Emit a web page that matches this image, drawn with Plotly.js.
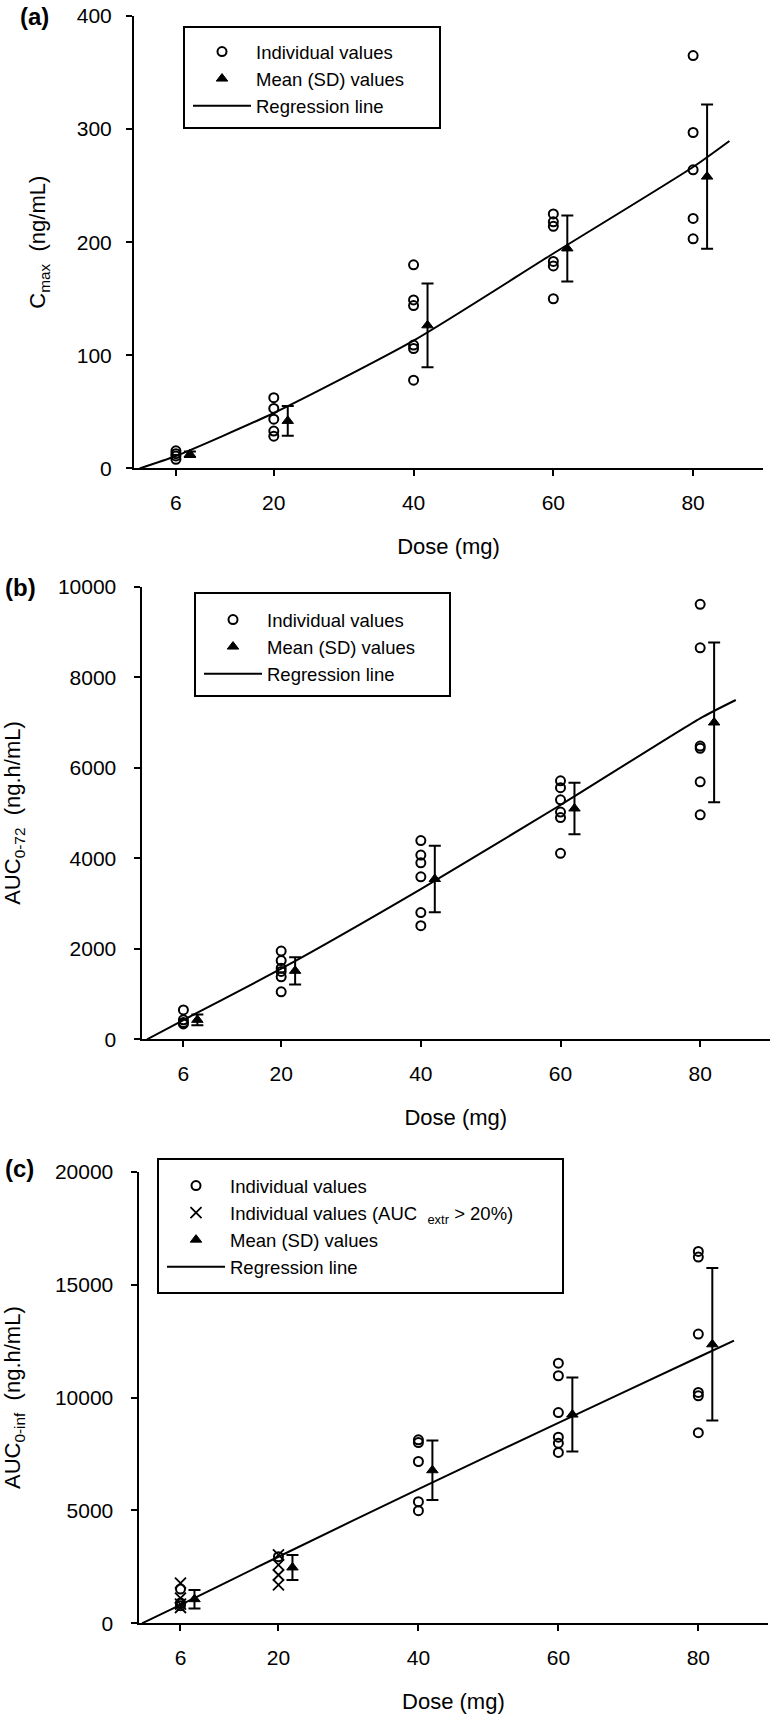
<!DOCTYPE html>
<html><head><meta charset="utf-8">
<script src="https://cdn.plot.ly/plotly-3.0.1.min.js"></script>
<style>html,body{margin:0;padding:0;background:#fff;} #chart{width:772px;height:1714px;}</style>
</head><body><div id="chart"></div>
<script>
// ---------- shared ----------
const doseTicks = [6, 20, 40, 60, 80];
const doseTickText = ['6', '20', '40', '60', '80'];
const meanDose = [8, 22, 42, 62, 82];

// ---------- (a) Cmax ----------
const cmaxIndDose = [6, 6, 6, 6, 20, 20, 20, 20, 20, 40, 40, 40, 40, 40, 40, 60, 60, 60, 60, 60, 60, 80, 80, 80, 80, 80];
const cmaxInd = [15.5, 13, 11, 8, 62.5, 53, 43.5, 33, 28.5, 180, 149, 144, 109, 106, 78, 225, 218, 214, 183, 179, 150, 365, 297, 264, 221, 203];
const cmaxMean = [12.5, 42, 126.5, 194.5, 258];
const cmaxSD = [2.5, 13.2, 37, 29.2, 63.7];
const cmaxRegDose = [0.8, 6, 20, 40, 60, 80, 85.2];
const cmaxReg = [0, 11, 49, 113, 190, 266.5, 289.5];
const cmaxTicks = [0, 100, 200, 300, 400];
const cmaxTickText = ['0', '100', '200', '300', '400'];

// ---------- (b) AUC 0-72 ----------
const auc72IndDose = [6, 6, 6, 6, 20, 20, 20, 20, 20, 20, 40, 40, 40, 40, 40, 40, 60, 60, 60, 60, 60, 60, 80, 80, 80, 80, 80, 80];
const auc72Ind = [650, 430, 370, 340, 1950, 1740, 1570, 1500, 1380, 1050, 4390, 4070, 3900, 3590, 2800, 2510, 5710, 5560, 5290, 5020, 4900, 4110, 9610, 8650, 6480, 6430, 5690, 4960];
const auc72Mean = [430, 1513, 3541, 5100, 7000];
const auc72SD = [120, 300, 735, 570, 1765];
const auc72RegDose = [0.8, 6, 20, 40, 60, 80, 85.1];
const auc72Reg = [0, 426, 1560, 3320, 5177, 7092, 7497];
const auc72Ticks = [0, 2000, 4000, 6000, 8000, 10000];
const auc72TickText = ['0', '2000', '4000', '6000', '8000', '10000'];

// ---------- (c) AUC 0-inf ----------
const aucInfIndDose = [6, 6, 6, 20, 40, 40, 40, 40, 40, 60, 60, 60, 60, 60, 60, 80, 80, 80, 80, 80, 80];
const aucInfInd = [1520, 900, 780, 2950, 8130, 8010, 7170, 5390, 4990, 11530, 10970, 9340, 8250, 7980, 7570, 16480, 16230, 12820, 10230, 10080, 8450];
const aucInfExtrDose = [6, 6, 6, 6, 20, 20, 20, 20];
const aucInfExtr = [1780, 1120, 850, 700, 3030, 2590, 2140, 1700];
const aucInfMean = [1070, 2475, 6783, 9251, 12364];
const aucInfSD = [410, 555, 1315, 1641, 3379];
const aucInfRegDose = [0.5, 6, 20, 40, 60, 80, 85.1];
const aucInfReg = [0, 820, 2950, 5950, 8880, 11790, 12530];
const aucInfTicks = [0, 5000, 10000, 15000, 20000];
const aucInfTickText = ['0', '5000', '10000', '15000', '20000'];

// ---------- page geometry helpers ----------
const W = 772, H = 1714;
const px = v => v / W;
const py = v => 1 - v / H;
const FONT = 'Liberation Sans, Arial, Helvetica, sans-serif';
const NB = '\u00a0';

function circles(x, y, xa, ya, lg, name) {
  return {x, y, xaxis: xa, yaxis: ya, legend: lg, name, type: 'scatter', mode: 'markers',
    marker: {symbol: 'circle-open', size: 9, color: 'black', line: {color: 'black', width: 2}}};
}
function means(x, y, sd, xa, ya, lg) {
  return {x, y, xaxis: xa, yaxis: ya, legend: lg, name: 'Mean (SD) values', type: 'scatter', mode: 'markers',
    marker: {symbol: 'triangle-up', size: 10, color: 'black', line: {color: 'black', width: 1}},
    error_y: {type: 'data', array: sd, visible: true, color: 'black', thickness: 2, width: 6}};
}
function reg(x, y, xa, ya, lg) {
  return {x, y, xaxis: xa, yaxis: ya, legend: lg, name: 'Regression line', type: 'scatter', mode: 'lines',
    line: {color: 'black', width: 2, shape: 'spline', smoothing: 0.6}};
}

const data = [
  circles(cmaxIndDose, cmaxInd, 'x', 'y', 'legend', 'Individual values'),
  means(meanDose, cmaxMean, cmaxSD, 'x', 'y', 'legend'),
  reg(cmaxRegDose, cmaxReg, 'x', 'y', 'legend'),

  circles(auc72IndDose, auc72Ind, 'x2', 'y2', 'legend2', 'Individual values'),
  means(meanDose, auc72Mean, auc72SD, 'x2', 'y2', 'legend2'),
  reg(auc72RegDose, auc72Reg, 'x2', 'y2', 'legend2'),

  circles(aucInfIndDose, aucInfInd, 'x3', 'y3', 'legend3', 'Individual values'),
  {x: aucInfExtrDose, y: aucInfExtr, xaxis: 'x3', yaxis: 'y3', legend: 'legend3',
   name: 'Individual values (AUC' + NB + NB + '<sub>extr</sub> &gt; 20%)', type: 'scatter', mode: 'markers',
   marker: {symbol: 'x-thin-open', size: 11, color: 'black', line: {color: 'black', width: 1.8}}},
  means(meanDose, aucInfMean, aucInfSD, 'x3', 'y3', 'legend3'),
  reg(aucInfRegDose, aucInfReg, 'x3', 'y3', 'legend3')
];

function xAxis(domain, anchor) {
  return {domain, anchor, range: [0, 90], tickmode: 'array', tickvals: doseTicks, ticktext: doseTickText,
    ticks: 'outside', ticklen: 6, tickwidth: 2, tickcolor: 'black',
    showline: true, linewidth: 2, linecolor: 'black', showgrid: false, zeroline: false,
    tickfont: {size: 21, color: 'black', family: FONT},
    ticklabelstandoff: 8,
    title: {text: 'Dose (mg)', font: {size: 22, color: 'black', family: FONT}, standoff: 26}};
}
function yAxis(domain, anchor, range, ticks, tickText, title, standoff, labelStandoff) {
  return {domain, anchor, range, tickmode: 'array', tickvals: ticks, ticktext: tickText,
    ticks: 'outside', ticklen: 6, tickwidth: 2, tickcolor: 'black',
    showline: true, linewidth: 2, linecolor: 'black', showgrid: false, zeroline: false,
    tickfont: {size: 21, color: 'black', family: FONT},
    ticklabelstandoff: labelStandoff,
    title: {text: title, font: {size: 22, color: 'black', family: FONT}, standoff}};
}
function legendAt(left, top) {
  return {x: px(left), y: py(top), xanchor: 'left', yanchor: 'top', bgcolor: 'rgba(0,0,0,0)',
    borderwidth: 0, itemwidth: 58, tracegroupgap: 0, font: {size: 18.5, color: 'black', family: FONT}};
}
function box(x0, y0, x1, y1) {
  return {type: 'rect', xref: 'paper', yref: 'paper', x0: px(x0), x1: px(x1), y0: py(y1), y1: py(y0),
    line: {color: 'black', width: 2}, fillcolor: 'rgba(0,0,0,0)'};
}
function panelLabel(t, left, cy) {
  return {text: '<b>' + t + '</b>', xref: 'paper', yref: 'paper', x: px(left), y: py(cy),
    xanchor: 'left', yanchor: 'middle', showarrow: false, font: {size: 24, color: 'black', family: FONT}};
}

const layout = {
  width: W, height: H, autosize: false,
  margin: {l: 0, r: 0, t: 0, b: 0},
  paper_bgcolor: 'white', plot_bgcolor: 'white',
  font: {family: FONT, color: 'black'},
  showlegend: true,
  xaxis: xAxis([px(134), px(763)], 'y'),
  yaxis: yAxis([py(468.4), py(16)], 'x', [0, 400], cmaxTicks, cmaxTickText,
    'C<sub>max</sub>' + NB + ' (ng/mL)', 25, 10),
  xaxis2: xAxis([px(141.5), px(770)], 'y2'),
  yaxis2: yAxis([py(1039.3), py(586.7)], 'x2', [0, 10000], auc72Ticks, auc72TickText,
    'AUC<sub>0-72</sub>' + NB + ' (ng.h/mL)', 34, 13),
  xaxis3: xAxis([px(138.5), px(768.3)], 'y3'),
  yaxis3: yAxis([py(1623.3), py(1172)], 'x3', [0, 20000], aucInfTicks, aucInfTickText,
    'AUC<sub>0-inf</sub>' + NB + ' (ng.h/mL)', 37, 13),
  legend: legendAt(188, 33),
  legend2: legendAt(199, 601),
  legend3: legendAt(162, 1167),
  shapes: [box(184, 27, 440, 128), box(195, 593, 450, 696), box(158, 1159, 563, 1293)],
  annotations: [panelLabel('(a)', 18, 17), panelLabel('(b)', 3, 588), panelLabel('(c)', 3, 1168)]
};

Plotly.newPlot('chart', data, layout, {staticPlot: true, displayModeBar: false});
</script>
</body></html>
